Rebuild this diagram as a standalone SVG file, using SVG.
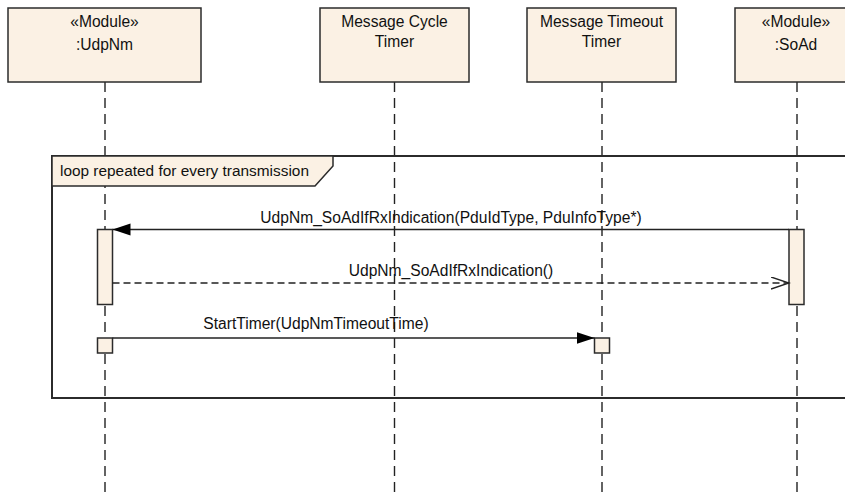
<svg xmlns="http://www.w3.org/2000/svg" width="845" height="498" viewBox="0 0 845 498">
<defs>
<style>
.box{fill:#FBF1E4;stroke:#2b2b2b;stroke-width:1.5}
.life{stroke:#222;stroke-width:1.4;stroke-dasharray:10 6;fill:none}
.msg{stroke:#222;stroke-width:1.4;fill:none}
.ret{stroke:#222;stroke-width:1.4;fill:none;stroke-dasharray:7 4}
.frame{fill:none;stroke:#2b2b2b;stroke-width:2}
.t{font-family:"Liberation Sans",Arial,sans-serif;font-size:15.6px;fill:#111;text-anchor:middle}
.tl{font-family:"Liberation Sans",Arial,sans-serif;font-size:15.4px;fill:#111}
</style>
<marker id="filled" markerWidth="20" markerHeight="14" refX="18" refY="6" orient="auto" markerUnits="userSpaceOnUse">
<path d="M0,0 L18,6 L0,12 Z" fill="#000"/>
</marker>
<marker id="open" markerWidth="20" markerHeight="14" refX="18" refY="6.5" orient="auto" markerUnits="userSpaceOnUse">
<path d="M0,0.5 L18,6.5 L0,12.5" fill="none" stroke="#222" stroke-width="1.4"/>
</marker>
</defs>
<rect width="845" height="498" fill="#fff"/>

<g id="lifelines">
<line class="life" x1="105" y1="82" x2="105" y2="498"/>
<line class="life" x1="394.5" y1="82" x2="394.5" y2="498"/>
<line class="life" x1="602" y1="82" x2="602" y2="498"/>
<line class="life" x1="797" y1="82" x2="797" y2="498"/>
</g>

<g id="loop-frame">
<rect class="frame" x="52" y="156" width="810" height="242"/>
<path d="M52,156 L333,156 L333,166 L315,186 L52,186 Z" fill="#FBF1E4" stroke="#2b2b2b" stroke-width="1.5"/>
<text class="tl" x="60" y="176">loop repeated for every transmission</text>
</g>

<g id="UdpNm">
<rect class="box" x="8" y="8" width="193" height="74"/>
<text class="t" x="104.5" y="27">«Module»</text>
<text class="t" x="104.5" y="50">:UdpNm</text>
</g>

<g id="MessageCycleTimer">
<rect class="box" x="320" y="8" width="149" height="74"/>
<text class="t" x="394.5" y="27">Message Cycle</text>
<text class="t" x="394.5" y="47">Timer</text>
</g>

<g id="MessageTimeoutTimer">
<rect class="box" x="527" y="8" width="149" height="74"/>
<text class="t" x="601.5" y="27">Message Timeout</text>
<text class="t" x="601.5" y="47">Timer</text>
</g>

<g id="SoAd">
<rect class="box" x="735" y="8" width="125" height="74"/>
<text class="t" x="796" y="27">«Module»</text>
<text class="t" x="796" y="50">:SoAd</text>
</g>

<g id="activations">
<rect class="box" x="97.5" y="229.5" width="15" height="75"/>
<rect class="box" x="97.5" y="338" width="15" height="15"/>
<rect class="box" x="789" y="229.5" width="15" height="75"/>
<rect class="box" x="594.5" y="338" width="15" height="15"/>
</g>

<g id="connectors">
<line class="msg" x1="789" y1="229.5" x2="112.5" y2="229.5" marker-end="url(#filled)"/>
<text class="t" x="451" y="223">UdpNm_SoAdIfRxIndication(PduIdType, PduInfoType*)</text>
<line class="ret" x1="112.5" y1="283" x2="789" y2="283" marker-end="url(#open)"/>
<text class="t" x="451" y="276">UdpNm_SoAdIfRxIndication()</text>
<line class="msg" x1="112.5" y1="338" x2="594.5" y2="338" marker-end="url(#filled)"/>
<text class="t" x="316" y="329">StartTimer(UdpNmTimeoutTime)</text>
</g>
</svg>
